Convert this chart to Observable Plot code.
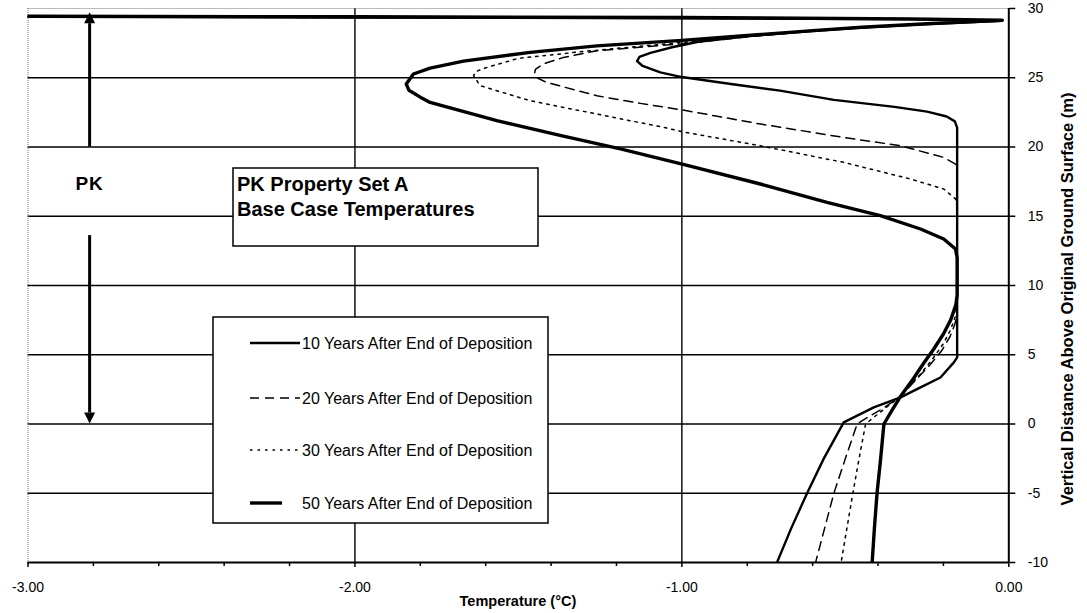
<!DOCTYPE html>
<html>
<head>
<meta charset="utf-8">
<script src="https://cdn.jsdelivr.net/npm/d3@7"></script>
<script src="https://cdn.jsdelivr.net/npm/@observablehq/plot@0.6"></script>
<style>
html,body{margin:0;padding:0;background:#fff;}
#chart{width:1087px;height:613px;position:relative;}
</style>
</head>
<body>
<div id="chart"></div>
<script>
// ---------------- data ----------------
const seriesLabels = [
  "10 Years After End of Deposition",
  "20 Years After End of Deposition",
  "30 Years After End of Deposition",
  "50 Years After End of Deposition"
];

// temperature (°C) and elevation (m) along each profile, in drawing order
const temp10 = [-3.0, -2.0, -1.0, -0.3, -0.02, -0.25, -0.45, -0.6, -0.8, -0.95, -1.03, -1.096, -1.13, -1.137, -1.12, -1.066, -1.0, -0.85, -0.7, -0.535, -0.35, -0.25, -0.19, -0.165, -0.158, -0.158, -0.158, -0.168, -0.209, -0.27, -0.331, -0.413, -0.505, -0.566, -0.617, -0.665, -0.709];
const elev10 = [29.4, 29.35, 29.3, 29.22, 29.12, 28.87, 28.62, 28.38, 28.0, 27.6, 27.2, 26.8, 26.5, 26.2, 25.85, 25.39, 25.05, 24.55, 24.07, 23.4, 22.9, 22.55, 22.2, 21.85, 21.4, 10.0, 4.81, 4.45, 3.36, 2.64, 1.92, 1.2, 0.12, -2.5, -5, -7.5, -10];

const temp20 = [-3.0, -2.0, -1.0, -0.3, -0.02, -0.25, -0.45, -0.6, -0.8, -1.0, -1.26, -1.362, -1.423, -1.448, -1.451, -1.44, -1.413, -1.26, -1.127, -1.0, -0.76, -0.505, -0.331, -0.199, -0.163, -0.158, -0.158, -0.165, -0.18, -0.205, -0.24, -0.28, -0.331, -0.38, -0.43, -0.464, -0.5, -0.535, -0.563, -0.591];
const elev20 = [29.4, 29.35, 29.3, 29.22, 29.13, 28.88, 28.63, 28.38, 27.95, 27.45, 26.95, 26.47, 26.0, 25.6, 25.27, 24.95, 24.66, 23.7, 23.15, 22.68, 21.66, 20.69, 20.09, 19.25, 18.77, 18.2, 8.0, 7.2, 6.3, 5.3, 4.3, 3.3, 2.0, 1.2, 0.5, 0.0, -2.5, -5, -7.5, -10];

const temp30 = [-3.0, -2.0, -1.0, -0.3, -0.02, -0.25, -0.45, -0.6, -0.8, -1.0, -1.3, -1.5, -1.596, -1.63, -1.637, -1.617, -1.464, -1.26, -1.056, -0.999, -0.76, -0.505, -0.301, -0.199, -0.163, -0.158, -0.158, -0.163, -0.178, -0.2, -0.23, -0.27, -0.331, -0.38, -0.42, -0.438, -0.458, -0.477, -0.495, -0.513];
const elev30 = [29.42, 29.37, 29.32, 29.23, 29.14, 28.89, 28.64, 28.39, 28.0, 27.55, 26.9, 26.4, 25.75, 25.45, 25.15, 24.43, 23.34, 22.38, 21.42, 21.1, 20.09, 18.89, 17.69, 16.97, 16.25, 15.6, 8.6, 7.8, 6.8, 5.8, 4.8, 3.6, 2.0, 1.1, 0.35, 0.0, -2.5, -5, -7.5, -10];

const temp50 = [-3.0, -2.0, -1.0, -0.3, -0.02, -0.25, -0.45, -0.6, -0.8, -1.0, -1.26, -1.464, -1.668, -1.77, -1.821, -1.843, -1.835, -1.8, -1.77, -1.566, -1.366, -1.188, -0.999, -0.76, -0.556, -0.393, -0.27, -0.199, -0.163, -0.158, -0.158, -0.162, -0.178, -0.2, -0.23, -0.26, -0.291, -0.331, -0.357, -0.382, -0.392, -0.403, -0.411, -0.418];
const elev50 = [29.45, 29.4, 29.35, 29.25, 29.15, 28.9, 28.65, 28.4, 28.05, 27.7, 27.3, 26.83, 26.2, 25.7, 25.27, 24.55, 24.1, 23.6, 23.22, 21.9, 20.8, 19.86, 18.77, 17.33, 16.0, 15.04, 14.08, 13.36, 12.64, 12.0, 9.3, 8.6, 7.5, 6.5, 5.4, 4.4, 3.3, 2.0, 1.0, 0.0, -2.5, -5, -7.5, -10];

const xMajorTicks = [-3, -2, -1, 0];
const xTickLabels = ["-3.00", "-2.00", "-1.00", "0.00"];
const xMinorTicks = [-2.8, -2.6, -2.4, -2.2, -1.8, -1.6, -1.4, -1.2, -0.8, -0.6, -0.4, -0.2];
const yTicks = [-10, -5, 0, 5, 10, 15, 20, 25, 30];
const yTickLabels = ["-10", "-5", "0", "5", "10", "15", "20", "25", "30"];
const gridYValues = [-5, 0, 5, 10, 15, 20, 25];
const gridXValues = [-2, -1];

const xTitle = "Temperature (°C)";
const yTitle = "Vertical Distance Above Original Ground Surface (m)";
const boxLines = ["PK Property Set A", "Base Case Temperatures"];
const unitLabel = "PK";
const pkArrowX = -2.81;      // temperature position of the PK extent arrow
const pkUpperArrow = [20, 29.7];
const pkLowerArrow = [13.6, 0];

// ---------------- styles ----------------
const lineStyles = [
  {strokeWidth: 2.4, dash: null},
  {strokeWidth: 1.5, dash: "9,6"},
  {strokeWidth: 1.5, dash: "2.5,5"},
  {strokeWidth: 3.4, dash: null}
];

const series = [[temp10, elev10], [temp20, elev20], [temp30, elev30], [temp50, elev50]]
  .map(([t, e], i) => t.map((v, j) => ({t: v, z: e[j], s: seriesLabels[i]})));

const FONT = "Arial, 'Liberation Sans', Helvetica, sans-serif";

const plot = Plot.plot({
  width: 1087,
  height: 613,
  marginLeft: 27.5,
  marginRight: 78.7,
  marginTop: 8,
  marginBottom: 51,
  x: {domain: [-3, 0]},
  y: {domain: [-10, 30]},
  style: {fontFamily: FONT, fontSize: "14px", background: "white", color: "black"},
  marks: [
    Plot.ruleY(gridYValues, {stroke: "black", strokeWidth: 1.4}),
    Plot.ruleX(gridXValues, {stroke: "black", strokeWidth: 1.4}),
    Plot.ruleX([-3], {stroke: "#777", strokeWidth: 1, strokeDasharray: "1,1"}),
    Plot.ruleY([30], {stroke: "#777", strokeWidth: 1, strokeDasharray: "1,1"}),
    ...series.map((d, i) => Plot.line(d, {
      x: "t", y: "z", stroke: "black",
      strokeWidth: lineStyles[i].strokeWidth,
      strokeDasharray: lineStyles[i].dash,
      strokeLinejoin: "round",
      clip: true
    })),
    Plot.ruleX([0], {stroke: "black", strokeWidth: 2}),
    Plot.ruleY([-10], {stroke: "black", strokeWidth: 2}),
    Plot.axisX({ticks: xMinorTicks, tickSize: 4, tickFormat: () => "", label: null, strokeWidth: 1.5}),
    Plot.axisX({ticks: xMajorTicks, tickSize: 5, tickPadding: 15, label: null, strokeWidth: 1.5,
      tickFormat: d => xTickLabels[xMajorTicks.indexOf(d)]}),
    Plot.axisY({ticks: yTicks, anchor: "right", tickSize: 6, tickPadding: 13, label: null, strokeWidth: 1.5,
      tickFormat: d => yTickLabels[yTicks.indexOf(d)], textAnchor: "start"})
  ]
});

document.getElementById("chart").appendChild(plot);

const svg = d3.select(plot);

// ---------------- annotations ----------------
const sx = plot.scale("x"), sy = plot.scale("y");
const X = v => sx.apply(v), Y = v => sy.apply(v);

function addText(x, y, str, opts = {}) {
  return svg.append("text")
    .attr("x", x).attr("y", y)
    .attr("text-anchor", opts.anchor || "start")
    .attr("font-family", FONT)
    .attr("font-weight", opts.bold ? "bold" : "normal")
    .style("font-size", (opts.size || 13) + "px")
    .attr("fill", "black")
    .text(str);
}

// axis titles
addText((X(-3) + X(0)) / 2, 606, xTitle, {anchor: "middle", bold: true, size: 14.5});
addText(0, 0, yTitle, {anchor: "middle", bold: true, size: 16.5})
  .attr("transform", "translate(1073,299) rotate(-90)");

// PK extent arrows
const ax = X(pkArrowX);
function arrow(y0, y1) {
  const p0 = Y(y0), p1 = Y(y1);
  const dir = p1 < p0 ? -1 : 1;
  const headLen = 11, headHalf = 5.5;
  svg.append("line").attr("x1", ax).attr("x2", ax)
    .attr("y1", p0).attr("y2", p1 - dir * headLen)
    .attr("stroke", "black").attr("stroke-width", 3);
  svg.append("path")
    .attr("d", `M${ax},${p1} L${ax - headHalf},${p1 - dir * headLen} L${ax + headHalf},${p1 - dir * headLen} Z`)
    .attr("fill", "black");
}
arrow(pkUpperArrow[0], pkUpperArrow[1]);
arrow(pkLowerArrow[0], pkLowerArrow[1]);

addText(ax, 190, unitLabel, {anchor: "middle", bold: true, size: 19}).attr("letter-spacing", 1);

// title box
svg.append("rect")
  .attr("x", 233).attr("y", 168).attr("width", 305).attr("height", 78)
  .attr("fill", "white").attr("stroke", "black").attr("stroke-width", 1.5);
boxLines.forEach((t, i) => addText(237, 191 + i * 25, t, {bold: true, size: 20}));

// legend
svg.append("rect")
  .attr("x", 213).attr("y", 317).attr("width", 335).attr("height", 206)
  .attr("fill", "white").attr("stroke", "black").attr("stroke-width", 1.5);
const legendRows = [343, 398, 450, 503];
const legendSampleEnd = [300, 300, 298, 282];
seriesLabels.forEach((lab, i) => {
  const y = legendRows[i];
  svg.append("line")
    .attr("x1", 250).attr("x2", legendSampleEnd[i]).attr("y1", y).attr("y2", y)
    .attr("stroke", "black").attr("stroke-width", lineStyles[i].strokeWidth)
    .attr("stroke-dasharray", lineStyles[i].dash);
  addText(302, y + 5.5, lab, {size: 16});
});
</script>
</body>
</html>
